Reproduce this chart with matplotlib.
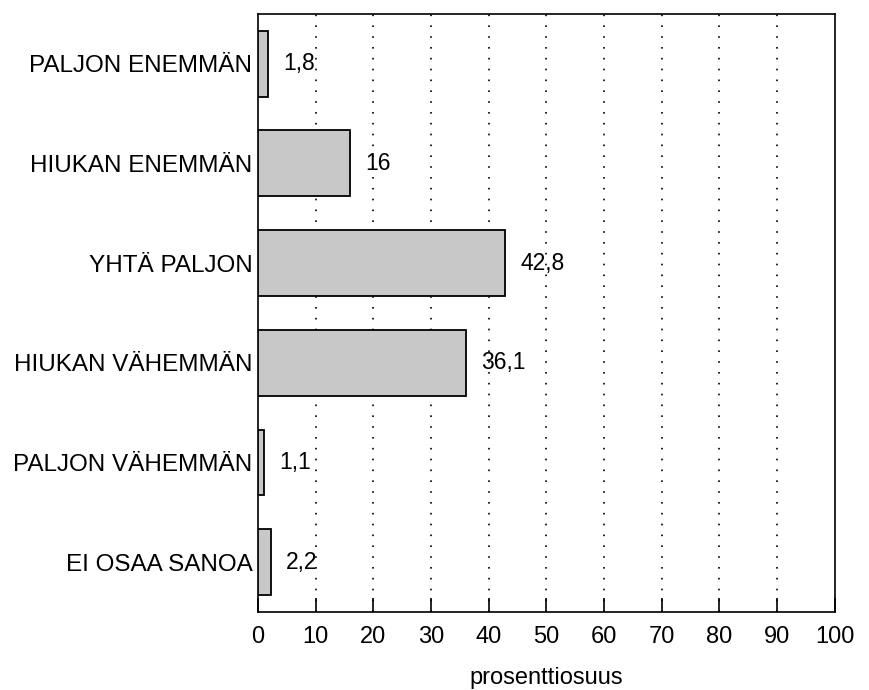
import numpy as np
import matplotlib.pyplot as plt

plt.rcParams['font.family'] = ['Liberation Sans', 'DejaVu Sans']

categories = ['PALJON ENEMMÄN', 'HIUKAN ENEMMÄN', 'YHTÄ PALJON',
              'HIUKAN VÄHEMMÄN', 'PALJON VÄHEMMÄN', 'EI OSAA SANOA']
values = [1.8, 16, 42.8, 36.1, 1.1, 2.2]
value_labels = ['1,8', '16', '42,8', '36,1', '1,1', '2,2']
xticks = list(range(0, 101, 10))

fig = plt.figure(figsize=(8.7, 6.9), dpi=100)
ax = fig.add_axes([0.2966, 0.113, 0.663, 0.867])

y = np.arange(len(categories))
ax.barh(y, values, height=0.66, color='#c8c8c8', edgecolor='black',
        linewidth=1.3, zorder=3)

for yi, v, lab in zip(y, values, value_labels):
    ax.annotate(lab, (v, yi), xytext=(11, 0), textcoords='offset points',
                va='center', ha='left', fontsize=16.5, zorder=4)

ax.set_xlim(0, 100)
ax.set_ylim(len(categories) - 0.5, -0.5)
ax.set_yticks(y)
ax.set_yticklabels(categories, fontsize=17.5)
ax.tick_params(axis='y', length=0, pad=4)
ax.set_xticks(xticks)
ax.set_xticklabels([str(t) for t in xticks], fontsize=17)
ax.tick_params(axis='x', direction='in', length=10, width=1.2, pad=10)

for t in xticks[1:-1]:
    ax.axvline(t, color='black', linestyle=(0, (1, 5.5)), linewidth=1.2, zorder=1)

for s in ax.spines.values():
    s.set_linewidth(1.2)

ax.set_xlabel('prosenttiosuus', fontsize=17, labelpad=14)

fig.savefig('out.png', dpi=100)
